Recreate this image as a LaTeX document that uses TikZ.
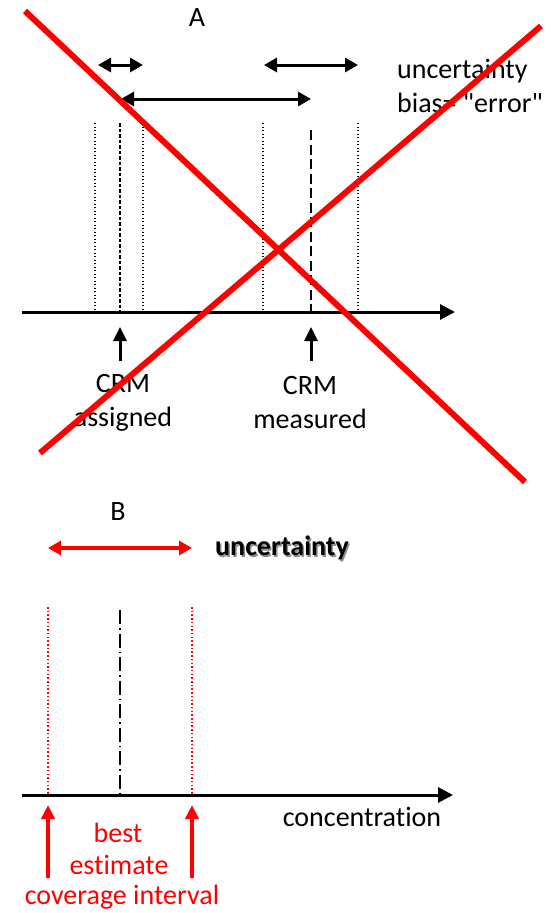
\documentclass[tikz,border=0pt]{standalone}
\usepackage{fontspec}
\setmainfont{Carlito}[Ligatures={TeX,NoCommon}]
\newfontfamily\plainq{Carlito}[Ligatures=ResetAll]
\newcommand{\sq}{{\plainq\char34}}
\usetikzlibrary{arrows.meta}
\definecolor{xred}{RGB}{255,0,0}
\begin{document}
\begin{tikzpicture}[x=1pt,y=-1pt,
  txt/.style={font=\fontsize{28}{34}\selectfont, inner sep=0pt, align=center},
  axis/.style={line width=3pt, -{Triangle[length=15pt,width=15pt]}},
  dbl/.style={line width=3pt, {Triangle[length=13pt,width=14pt]}-{Triangle[length=13pt,width=14pt]}},
  upar/.style={line width=3pt, -{Triangle[length=14pt,width=13pt]}},
  dotln/.style={line width=1.3pt, dash pattern=on 1.3pt off 2.2pt},
  cross/.style={xred, line width=6pt},
]
\useasboundingbox (0,0) rectangle (551,913);
% ---------- Part A ----------
\node[txt] (labA) at (197,18) {A};
% range arrows
\coordinate (s1a) at (98,65); \coordinate (s1b) at (143,65);
\draw[dbl] (s1a) -- (s1b);
\coordinate (s2a) at (264,65); \coordinate (s2b) at (358,65);
\draw[dbl] (s2a) -- (s2b);
\coordinate (s3a) at (121,99); \coordinate (s3b) at (311,99);
\draw[dbl] (s3a) -- (s3b);
\node[txt, anchor=west, align=left] (uncA) at (397,86) {uncertainty\\bias= \sq error\sq};
% vertical lines
\coordinate (v1t) at (95,123); \coordinate (v1b) at (95,311);
\coordinate (v2t) at (120,123); \coordinate (v2b) at (120,311);
\coordinate (v3t) at (143,123); \coordinate (v3b) at (143,311);
\coordinate (v4t) at (263,123); \coordinate (v4b) at (263,311);
\coordinate (v5t) at (311,130); \coordinate (v5b) at (311,311);
\coordinate (v6t) at (358,123); \coordinate (v6b) at (358,311);
\draw[dotln] (v1t) -- (v1b);
\draw[line width=1.6pt, dash pattern=on 3.5pt off 2pt] (v2t) -- (v2b);
\draw[dotln] (v3t) -- (v3b);
\draw[dotln] (v4t) -- (v4b);
\draw[line width=1.8pt, dash pattern=on 10pt off 4.5pt] (v5t) -- (v5b);
\draw[dotln] (v6t) -- (v6b);
% axis
\coordinate (axAs) at (22,312); \coordinate (axAe) at (455,312);
\draw[axis] (axAs) -- (axAe);
% up arrows
\coordinate (u1b) at (120,361); \coordinate (u1t) at (120,327);
\coordinate (u2b) at (311,361); \coordinate (u2t) at (311,327);
\draw[upar] (u1b) -- (u1t);
\draw[upar] (u2b) -- (u2t);
\node[txt] (crmA) at (123,403) {CRM\\assigned};
\node[txt] (crmM) at (310,403) {CRM\\measured};
% red cross
\coordinate (c1a) at (25,11); \coordinate (c1b) at (525,482);
\coordinate (c2a) at (40,453); \coordinate (c2b) at (541,26);
\draw[cross] (c1a) -- (c1b);
\draw[cross] (c2a) -- (c2b);
% ---------- Part B ----------
\node[txt] (labB) at (118,512) {B};
\coordinate (rua) at (48,548); \coordinate (rub) at (192,548);
\draw[dbl, xred, line width=3.5pt] (rua) -- (rub);
\node[txt, anchor=west, font=\fontsize{28}{34}\selectfont\bfseries, text=black!45] (uncBs) at (216.5,549.5) {uncertainty};
\node[txt, anchor=west, font=\fontsize{28}{34}\selectfont\bfseries] (uncB) at (215,548) {uncertainty};
\coordinate (r1t) at (48,607); \coordinate (r1b) at (48,794);
\coordinate (r2t) at (192,607); \coordinate (r2b) at (192,794);
\coordinate (bet) at (120,610); \coordinate (beb) at (120,794);
\draw[xred, line width=1.3pt, dash pattern=on 1.5pt off 2.2pt] (r1t) -- (r1b);
\draw[xred, line width=1.3pt, dash pattern=on 1.5pt off 2.2pt] (r2t) -- (r2b);
\draw[line width=1.3pt, dash pattern=on 14pt off 4pt on 1.5pt off 4pt] (bet) -- (beb);
\coordinate (axBs) at (22,795); \coordinate (axBe) at (453,795);
\draw[axis] (axBs) -- (axBe);
\node[txt] (conc) at (362,817) {concentration};
\coordinate (ra1b) at (48,878); \coordinate (ra1t) at (48,805);
\coordinate (ra2b) at (192,878); \coordinate (ra2t) at (192,805);
\draw[upar, xred, line width=3.5pt] (ra1b) -- (ra1t);
\draw[upar, xred, line width=3.5pt] (ra2b) -- (ra2t);
\node[txt, text=xred] (best) at (118,833) {best};
\node[txt, text=xred] (est) at (119,865) {estimate};
\node[txt, text=xred] (cov) at (122,897) {coverage interval};
\end{tikzpicture}
\end{document}
